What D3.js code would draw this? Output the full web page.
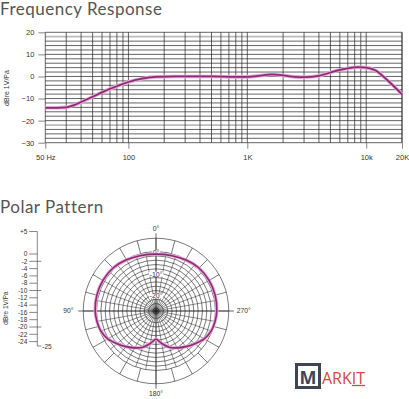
<!DOCTYPE html>
<html>
<head>
<meta charset="utf-8">
<script src="https://cdn.jsdelivr.net/npm/d3@7"></script>
<style>
  html, body { margin: 0; padding: 0; background: #fff; }
  svg { display: block; }
  .tick-label { font-family: "Liberation Sans", Arial, sans-serif; font-size: 7.5px; fill: #333; }
  .title { font-family: Lato, "Open Sans", sans-serif; font-size: 17px; fill: #555; letter-spacing: 0.5px; }
</style>
</head>
<body>
<script>
const w = 409;
const h = 399;

// frequency response (Hz -> dB re 1V/Pa)
const freqs = [20, 25, 30, 35, 40, 50, 60, 70, 80, 100, 130, 170, 250, 500, 800, 1000, 1300, 1600, 2000, 2500, 3000, 4000, 5000, 6000, 7000, 8500, 10000, 12000, 15000, 20000];
const responseDb = [-14.2, -14.2, -14.0, -13.0, -11.6, -9.2, -7.2, -5.6, -4.4, -2.5, -1.0, -0.2, 0, 0, -0.2, -0.2, 0.4, 0.9, 0.5, -0.2, -0.3, 0.3, 1.8, 3.0, 3.7, 4.2, 4.0, 2.7, -1.6, -8.1];
const freqTicks = [20, 100, 1000, 10000, 20000];
const freqTickLabels = ["50 Hz", "100", "1K", "10k", "20K"];
const dbTicks = [20, 10, 0, -10, -20, -30];

// polar pattern (degrees -> dB), one half, mirrored
const polarAngles = [0, 15, 30, 45, 60, 75, 90, 100, 110, 120, 130, 140, 150, 160, 170, 180];
const polarDb = [-1.2, -0.9, -0.2, 0.6, 0.8, 0.8, 0.6, 0.2, -0.4, -1.8, -4.0, -6.0, -7.8, -9.6, -12.2, -14.4];
const polarRings = d3.range(0, -27, -2);
const ringLabels = [[0, "0°"], [-10, "-10°"], [-20, "-20°"]];
const angleLabels = [[0, "0°"], [90, "90°"], [180, "180°"], [270, "270°"]];
const legendTicks = [5, 0, -2, -4, -6, -8, -10, -12, -14, -16, -18, -20, -22, -24];

const lineColor = "#8c2a75";
const haloColor = "#e8a8d8";
const gridColor = "#222";

const svg = d3.select("body").append("svg").attr("width", w).attr("height", h);

drawTitles();
drawFrequencyChart();
drawPolarLegend();
drawPolarChart();
drawLogo();

function drawTitles() {
    svg.append("text").attr("class", "title").attr("x", 0).attr("y", 15).text("Frequency Response");
    svg.append("text").attr("class", "title").attr("x", 0).attr("y", 213).text("Polar Pattern");
}

function drawFrequencyChart() {
    const xScale = d3.scaleLog().domain([20, 20000]).range([45.3, 402]);
    const yScale = d3.scaleLinear().domain([-30, 20]).range([142.7, 32.3]);
    const g = svg.append("g");

    // horizontal grid every 2 dB
    d3.range(-30, 21, 2).forEach(function (v) {
        const gray = v === 18 || v === -22;
        g.append("line")
            .attr("x1", xScale(20)).attr("x2", xScale(20000))
            .attr("y1", yScale(v)).attr("y2", yScale(v))
            .attr("stroke", gray ? "#bbb" : gridColor)
            .attr("stroke-width", gray ? 1.8 : 0.7);
    });

    // vertical log grid
    const vLines = [];
    [10, 100, 1000, 10000].forEach(function (dec) {
        for (let k = 1; k <= 9; k++) {
            const f = dec * k;
            if (f >= 20 && f <= 20000) vLines.push(f);
        }
    });
    vLines.push(20000);
    g.selectAll(".vgrid")
        .data(vLines)
        .enter()
        .append("line")
        .attr("x1", d => xScale(d)).attr("x2", d => xScale(d))
        .attr("y1", yScale(20)).attr("y2", yScale(-30))
        .attr("stroke", gridColor)
        .attr("stroke-width", 0.7);

    // x axis
    const xAxis = d3.axisBottom(xScale)
        .tickValues(freqTicks)
        .tickSize(6)
        .tickFormat((d, i) => freqTickLabels[i]);
    const xg = svg.append("g").attr("transform", "translate(0," + yScale(-30) + ")").call(xAxis);
    xg.select(".domain").remove();
    xg.selectAll("line").attr("stroke", "#555").attr("stroke-width", 0.7);
    xg.selectAll("text").attr("class", "tick-label").attr("dy", "1.1em").attr("font-family", null).attr("font-size", null).attr("fill", null);

    // y axis
    const yAxis = d3.axisLeft(yScale).tickValues(dbTicks).tickSize(7).tickPadding(4);
    const yg = svg.append("g").attr("transform", "translate(" + xScale(20) + ",0)").call(yAxis);
    yg.select(".domain").remove();
    yg.selectAll("line").attr("stroke", "#555").attr("stroke-width", 0.7);
    yg.selectAll("text").attr("class", "tick-label").attr("font-family", null).attr("font-size", null).attr("fill", null);

    svg.append("text")
        .attr("class", "tick-label")
        .attr("transform", "translate(9,88)rotate(-90)")
        .attr("text-anchor", "middle")
        .style("font-size", "7px")
        .text("dBre 1V/Pa");

    const line = d3.line()
        .x((d, i) => xScale(freqs[i]))
        .y(d => yScale(d))
        .curve(d3.curveMonotoneX);

    svg.append("path").attr("d", line(responseDb)).attr("fill", "none")
        .attr("stroke", haloColor).attr("stroke-width", 3.6).attr("stroke-linejoin", "round");
    svg.append("path").attr("d", line(responseDb)).attr("fill", "none")
        .attr("stroke", lineColor).attr("stroke-width", 1.7).attr("stroke-linejoin", "round");
}

function drawPolarLegend() {
    const yScale = d3.scaleLinear().domain([0, -24]).range([254, 341.6]);
    const legendY = d => d > 0 ? 254 - d * 4.5 : yScale(d);
    const ax = 37.3;
    const g = svg.append("g");

    g.append("line").attr("x1", ax).attr("x2", ax).attr("y1", legendY(5)).attr("y2", 346)
        .attr("stroke", "#555").attr("stroke-width", 0.7);
    g.append("line").attr("x1", ax).attr("x2", ax + 4).attr("y1", 346).attr("y2", 346)
        .attr("stroke", "#555").attr("stroke-width", 0.7);

    legendTicks.forEach(function (v) {
        const y = legendY(v);
        const cross = v === -2 || v === -10 || v === -20;
        g.append("line").attr("x1", ax - 8).attr("x2", cross ? ax + 4 : ax)
            .attr("y1", y).attr("y2", y)
            .attr("stroke", "#555").attr("stroke-width", 0.7);
        g.append("text").attr("class", "tick-label")
            .attr("x", ax - 10).attr("y", y).attr("dy", "0.35em")
            .attr("text-anchor", "end")
            .style("font-size", "6.5px")
            .text(v > 0 ? "+" + v : v);
    });
    g.append("text").attr("class", "tick-label")
        .attr("x", ax + 5).attr("y", 347).attr("dy", "0.35em")
        .style("font-size", "6.5px")
        .text("-25");

    svg.append("text")
        .attr("class", "tick-label")
        .attr("transform", "translate(8,308)rotate(-90)")
        .attr("text-anchor", "middle")
        .style("font-size", "6.5px")
        .text("dBre 1V/Pa");
}

function drawPolarChart() {
    const cx = 156, cy = 311;
    const rScale = d3.scaleLinear().domain([-27.4, 0]).range([0, 59.5]);
    const outerDb = 6.1;
    const g = svg.append("g").attr("transform", "translate(" + cx + "," + cy + ")");

    // rings
    g.selectAll(".ring")
        .data(polarRings.concat([outerDb]))
        .enter()
        .append("circle")
        .attr("r", d => rScale(d))
        .attr("fill", "none")
        .attr("stroke", gridColor)
        .attr("stroke-width", 0.6);

    // inner spokes every 10 deg
    d3.range(0, 360, 10).forEach(function (a) {
        const t = a * Math.PI / 180;
        g.append("line")
            .attr("x1", 0).attr("y1", 0)
            .attr("x2", -Math.sin(t) * rScale(0)).attr("y2", -Math.cos(t) * rScale(0))
            .attr("stroke", gridColor).attr("stroke-width", 0.5);
    });
    // outer spokes every 15 deg
    d3.range(0, 360, 15).forEach(function (a) {
        const t = a * Math.PI / 180;
        g.append("line")
            .attr("x1", -Math.sin(t) * rScale(0)).attr("y1", -Math.cos(t) * rScale(0))
            .attr("x2", -Math.sin(t) * rScale(outerDb)).attr("y2", -Math.cos(t) * rScale(outerDb))
            .attr("stroke", gridColor).attr("stroke-width", 0.6);
    });
    // main axes
    const ext = rScale(outerDb) + 5;
    g.append("line").attr("x1", 0).attr("x2", 0).attr("y1", -ext).attr("y2", ext)
        .attr("stroke", gridColor).attr("stroke-width", 0.7);
    g.append("line").attr("x1", -ext).attr("x2", ext).attr("y1", 0).attr("y2", 0)
        .attr("stroke", gridColor).attr("stroke-width", 0.7);

    // ring labels
    ringLabels.forEach(function (d) {
        const y = -rScale(d[0]) + 1;
        const t = g.append("text").attr("class", "tick-label")
            .attr("x", 0).attr("y", y).attr("dy", "0.35em")
            .attr("text-anchor", "middle")
            .style("font-size", "7px")
            .text(d[1]);
        const bb = t.node().getBBox();
        g.insert("rect", function () { return t.node(); })
            .attr("x", bb.x - 0.5).attr("y", bb.y + 1).attr("width", bb.width + 1).attr("height", bb.height - 2)
            .attr("fill", "#fff");
    });

    // angle labels
    angleLabels.forEach(function (d) {
        const t = d[0] * Math.PI / 180;
        const r = rScale(outerDb) + (d[0] % 180 === 0 ? 10 : 15);
        g.append("text").attr("class", "tick-label")
            .attr("x", -Math.sin(t) * r).attr("y", -Math.cos(t) * r).attr("dy", "0.35em")
            .attr("text-anchor", "middle")
            .style("font-size", "6.8px")
            .text(d[1]);
    });

    // pattern, mirrored to full circle
    const pts = [];
    polarAngles.forEach((a, i) => pts.push([a, polarDb[i]]));
    for (let i = polarAngles.length - 2; i > 0; i--) pts.push([360 - polarAngles[i], polarDb[i]]);

    const radial = d3.lineRadial()
        .angle(d => -d[0] * Math.PI / 180)
        .radius(d => rScale(d[1]))
        .curve(d3.curveCatmullRomClosed.alpha(0.5));

    g.append("path").attr("d", radial(pts)).attr("fill", "none")
        .attr("stroke", haloColor).attr("stroke-width", 3.4);
    g.append("path").attr("d", radial(pts)).attr("fill", "none")
        .attr("stroke", lineColor).attr("stroke-width", 1.6);
}

function drawLogo() {
    const g = svg.append("g");
    g.append("rect").attr("x", 296.5).attr("y", 364.5).attr("width", 23).attr("height", 23)
        .attr("fill", "#fff").attr("stroke", "#3e4553").attr("stroke-width", 3);
    g.append("text").attr("x", 308).attr("y", 383.5).attr("text-anchor", "middle")
        .attr("font-family", "'Open Sans', Lato, sans-serif").attr("font-weight", 700)
        .attr("font-size", "18px").attr("fill", "#3e4553").text("M");
    const t = g.append("text").attr("x", 322).attr("y", 383.5)
        .attr("font-family", "'Open Sans', Lato, sans-serif").attr("font-weight", 400)
        .attr("font-size", "16px").attr("fill", "#d8463d").text("ARKIT");
    const node = t.node();
    const start = 322 + node.getSubStringLength(0, 3);
    const len = node.getSubStringLength(3, 2);
    g.append("line").attr("x1", start).attr("x2", start + len)
        .attr("y1", 385.5).attr("y2", 385.5)
        .attr("stroke", "#d8463d").attr("stroke-width", 1.3);
}
</script>
</body>
</html>
